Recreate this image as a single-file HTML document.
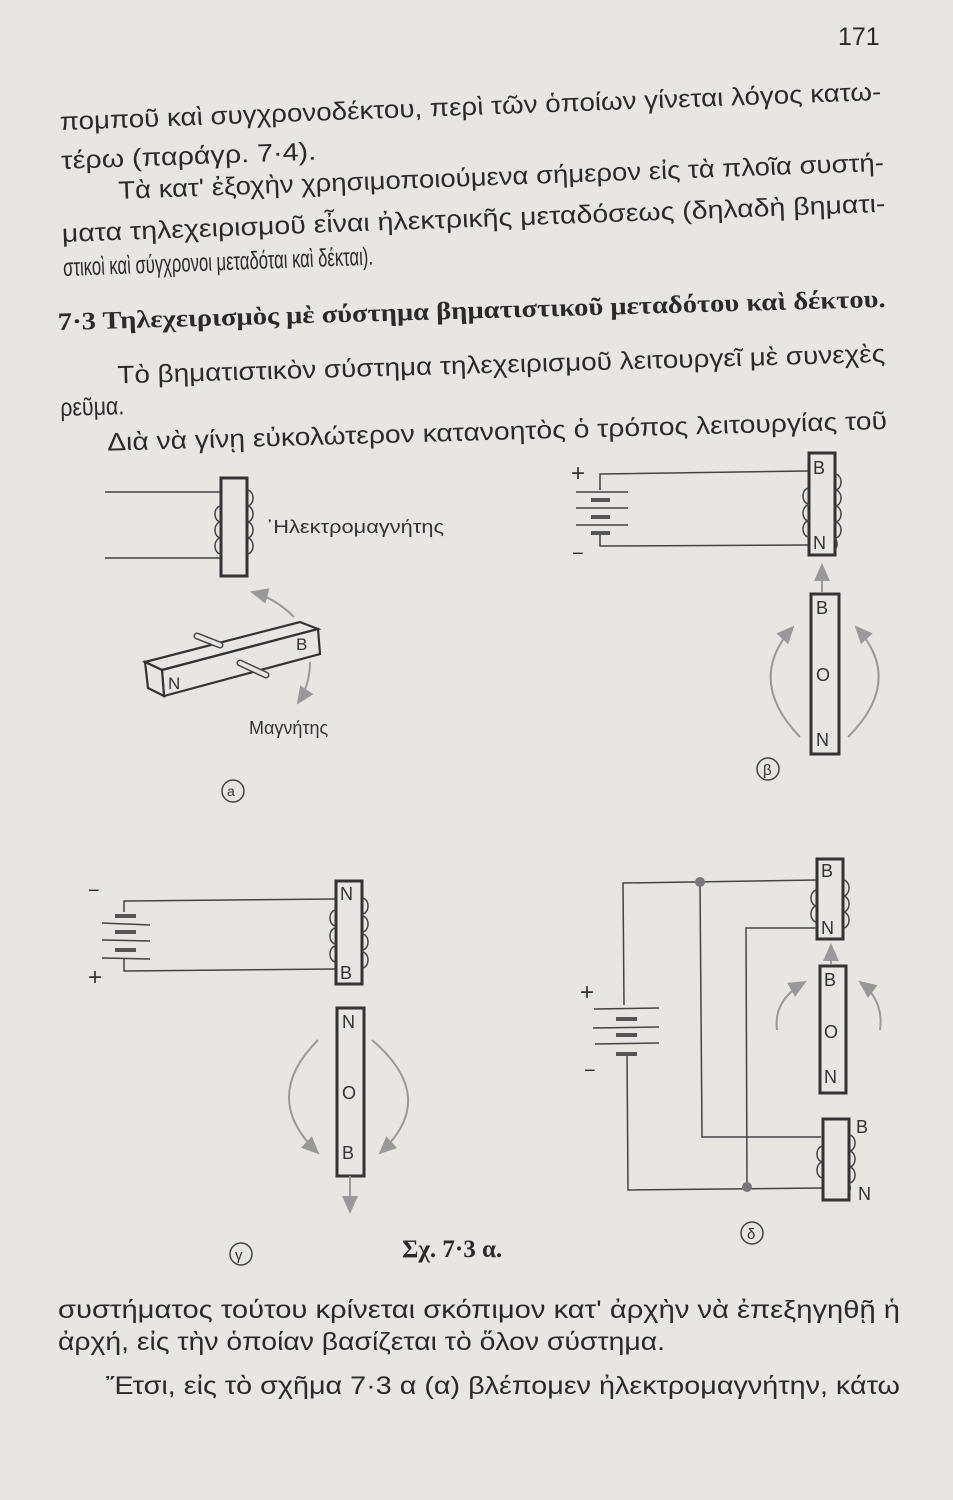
<!DOCTYPE html>
<html><head><meta charset="utf-8"><style>
html,body{margin:0;padding:0;background:#e8e6e2;}
svg{display:block}
.t{font-family:"Liberation Sans","DejaVu Sans",sans-serif;font-size:25px;fill:#2a2a2a}
.b{font-family:"Liberation Serif","DejaVu Serif",serif;font-size:25px;font-weight:bold;fill:#2a2a2a}
.l{font-family:"Liberation Sans",sans-serif;fill:#333}
.w{stroke:#444;stroke-width:1.5;fill:none}
.r{stroke:#333;stroke-width:3;fill:none}
.g{stroke:#999;stroke-width:2;fill:none}
.p{stroke:#555;stroke-width:4;}
</style></head><body>
<svg width="953" height="1500" viewBox="0 0 953 1500" xmlns="http://www.w3.org/2000/svg">
<defs>
<marker id="ah" markerWidth="10" markerHeight="10" refX="8" refY="5" orient="auto"><path d="M0,1 L9,5 L0,9 z" fill="#999"/></marker>
</defs>
<text class="t" x="838" y="45" font-size="24">171</text>
<g transform="rotate(-2.1 60 128)">
<text class="t" x="60" y="130" textLength="822" lengthAdjust="spacingAndGlyphs">πομποῦ καὶ συγχρονοδέκτου, περὶ τῶν ὁποίων γίνεται λόγος κατω-</text>
<text class="t" x="60" y="169" textLength="255" lengthAdjust="spacingAndGlyphs">τέρω (παράγρ. 7·4).</text>
<text class="t" x="116" y="201" textLength="766" lengthAdjust="spacingAndGlyphs">Τὰ κατ' ἐξοχὴν χρησιμοποιούμενα σήμερον εἰς τὰ πλοῖα συστή-</text>
<text class="t" x="58" y="242" textLength="824" lengthAdjust="spacingAndGlyphs">ματα τηλεχειρισμοῦ εἶναι ἠλεκτρικῆς μεταδόσεως (δηλαδὴ βηματι-</text>
<text class="t" x="58" y="276" font-size="23" textLength="310" lengthAdjust="spacingAndGlyphs">στικοὶ καὶ σύγχρονοι μεταδόται καὶ δέκται).</text>
</g>
<g transform="rotate(-1.6 58 328)">
<text class="b" x="58" y="330" textLength="828" lengthAdjust="spacingAndGlyphs">7·3 Τηλεχειρισμὸς μὲ σύστημα βηματιστικοῦ μεταδότου καὶ δέκτου.</text>
<text class="t" x="116" y="385" textLength="768" lengthAdjust="spacingAndGlyphs">Τὸ βηματιστικὸν σύστημα τηλεχειρισμοῦ λειτουργεῖ μὲ συνεχὲς</text>
<text class="t" x="58" y="416" font-size="23" textLength="64" lengthAdjust="spacingAndGlyphs">ρεῦμα.</text>
<text class="t" x="104" y="452" textLength="780" lengthAdjust="spacingAndGlyphs">Διὰ νὰ γίνῃ εὐκολώτερον κατανοητὸς ὁ τρόπος λειτουργίας τοῦ</text>
</g>

<!-- (α) -->
<line class="w" x1="105" y1="492" x2="222" y2="492"/>
<line class="w" x1="105" y1="558" x2="222" y2="558"/>
<rect class="r" x="221" y="478" width="26" height="98"/>
<path class="w" d="M247,490 a6,8 0 0 1 0,16 M221,506 a6,8 0 0 0 0,16 M247,506 a6,8 0 0 1 0,16 M221,522 a6,8 0 0 0 0,16 M247,522 a6,8 0 0 1 0,16 M221,538 a6,8 0 0 0 0,16 M247,538 a6,8 0 0 1 0,16"/>
<text class="l" x="266" y="533" font-size="18" textLength="178" lengthAdjust="spacingAndGlyphs">᾿Ηλεκτρομαγνήτης</text>
<path class="g" d="M294,617 Q275,598 252,592" marker-end="url(#ah)"/>
<path class="g" d="M310,662 Q310,685 298,703" marker-end="url(#ah)"/>
<polygon points="145,662 300,622 318,629 162,670" fill="#e8e6e2" stroke="#333" stroke-width="2.2"/>
<polygon points="162,670 318,629 320,654 164,696" fill="#e8e6e2" stroke="#333" stroke-width="2.2"/>
<polygon points="145,662 162,670 164,696 148,688" fill="#e8e6e2" stroke="#333" stroke-width="2.2"/>
<path d="M197,636 L220,645" stroke="#444" stroke-width="7" stroke-linecap="round"/>
<path d="M197,636 L220,645" stroke="#e8e6e2" stroke-width="4" stroke-linecap="round"/>
<path d="M240,663 L266,675" stroke="#444" stroke-width="7" stroke-linecap="round"/>
<path d="M240,663 L266,675" stroke="#e8e6e2" stroke-width="4" stroke-linecap="round"/>
<text class="l" x="168" y="689" font-size="17">N</text>
<text class="l" x="296" y="650" font-size="17">B</text>
<text class="l" x="249" y="734" font-size="18">Μαγνήτης</text>
<circle cx="233" cy="791" r="11" class="w"/><text class="l" x="227" y="796" font-size="14">a</text>

<!-- (β) -->
<text class="l" x="571" y="481" font-size="24">+</text>
<text class="l" x="572" y="560" font-size="20">−</text>
<path class="w" d="M600,490 L600,474 L808,471 M600,532 L600,546 L808,545"/>
<line class="w" x1="576" y1="492" x2="628" y2="492"/><line class="w" x1="576" y1="508" x2="628" y2="508"/><line class="w" x1="576" y1="525" x2="628" y2="525"/>
<line class="p" x1="591" y1="500" x2="610" y2="500"/><line class="p" x1="591" y1="517" x2="610" y2="517"/><line class="p" x1="591" y1="533" x2="610" y2="533"/>
<rect class="r" x="809" y="453" width="26" height="102"/>
<path class="w" d="M835,474 a6,8 0 0 1 0,16 M809,488 a6,8 0 0 0 0,16 M835,490 a6,8 0 0 1 0,16 M809,505 a6,8 0 0 0 0,16 M835,506 a6,8 0 0 1 0,16 M809,521 a6,8 0 0 0 0,16 M835,522 a6,8 0 0 1 0,16 M835,538 a6,8 0 0 1 0,12"/>
<text class="l" x="813" y="474" font-size="18">B</text><text class="l" x="813" y="549" font-size="18">N</text>
<path class="g" d="M822,592 L822,565" marker-end="url(#ah)"/>
<rect class="r" x="811" y="594" width="28" height="160"/>
<text class="l" x="816" y="614" font-size="18">B</text><text class="l" x="816" y="681" font-size="18">O</text><text class="l" x="816" y="746" font-size="18">N</text>
<path class="g" d="M800,737 Q745,680 793,627" marker-end="url(#ah)"/>
<path class="g" d="M848,737 Q905,680 856,627" marker-end="url(#ah)"/>
<circle cx="768" cy="769" r="11" class="w"/><text class="l" x="763" y="775" font-size="15">β</text>

<!-- (γ) -->
<text class="l" x="88" y="897" font-size="20">−</text>
<text class="l" x="88" y="985" font-size="24">+</text>
<path class="w" d="M124,912 L124,901 L336,899 M124,958 L124,971 L336,969"/>
<line class="w" x1="102" y1="923" x2="150" y2="925"/><line class="w" x1="102" y1="940" x2="150" y2="941"/><line class="w" x1="102" y1="958" x2="150" y2="959"/>
<line class="p" x1="115" y1="916" x2="136" y2="916"/><line class="p" x1="115" y1="932" x2="136" y2="932"/><line class="p" x1="115" y1="950" x2="136" y2="950"/>
<rect class="r" x="336" y="881" width="26" height="103"/>
<path class="w" d="M362,898 a6,8 0 0 1 0,16 M336,910 a6,8 0 0 0 0,16 M362,916 a6,8 0 0 1 0,16 M336,928 a6,8 0 0 0 0,16 M362,934 a6,8 0 0 1 0,16 M336,946 a6,8 0 0 0 0,16 M362,952 a6,8 0 0 1 0,16"/>
<text class="l" x="340" y="900" font-size="18">N</text><text class="l" x="340" y="979" font-size="18">B</text>
<rect class="r" x="337" y="1008" width="27" height="168"/>
<text class="l" x="342" y="1028" font-size="18">N</text><text class="l" x="342" y="1099" font-size="18">O</text><text class="l" x="342" y="1159" font-size="18">B</text>
<path class="g" d="M350,1176 L350,1212" marker-end="url(#ah)"/>
<path class="g" d="M318,1040 Q260,1098 318,1153" marker-end="url(#ah)"/>
<path class="g" d="M372,1040 Q440,1098 380,1153" marker-end="url(#ah)"/>
<circle cx="241" cy="1254" r="11" class="w"/><text class="l" x="235" y="1260" font-size="15">γ</text>
<text class="b" x="402" y="1257" font-size="19" font-weight="normal">Σχ. 7·3 α.</text>

<!-- (δ) -->
<text class="l" x="580" y="1000" font-size="24">+</text>
<text class="l" x="584" y="1077" font-size="20">−</text>
<path class="w" d="M624,1005 L623,883 L817,880 M627,1052 L628,1190 L822,1188 M700,882 L702,1137 L821,1137 M747,1188 L746,928 L818,928"/>
<circle cx="700" cy="882" r="5" fill="#777"/><circle cx="747" cy="1187" r="5" fill="#777"/>
<line class="w" x1="594" y1="1009" x2="659" y2="1008"/><line class="w" x1="593" y1="1028" x2="659" y2="1027"/><line class="w" x1="595" y1="1044" x2="659" y2="1043"/>
<line class="p" x1="616" y1="1019" x2="637" y2="1019"/><line class="p" x1="616" y1="1035" x2="637" y2="1035"/><line class="p" x1="616" y1="1054" x2="637" y2="1054"/>
<rect class="r" x="817" y="859" width="26" height="80"/>
<path class="w" d="M843,880 a6,8 0 0 1 0,16 M817,890 a6,8 0 0 0 0,16 M843,896 a6,8 0 0 1 0,16 M817,906 a6,8 0 0 0 0,16 M843,912 a6,8 0 0 1 0,16"/>
<text class="l" x="821" y="877" font-size="18">B</text><text class="l" x="821" y="934" font-size="18">N</text>
<path class="g" d="M831,964 L831,945" marker-end="url(#ah)"/>
<rect class="r" x="820" y="966" width="26" height="127"/>
<text class="l" x="824" y="986" font-size="18">B</text><text class="l" x="824" y="1038" font-size="18">O</text><text class="l" x="824" y="1083" font-size="18">N</text>
<path class="g" d="M777,1030 Q773,1000 805,982" marker-end="url(#ah)"/>
<path class="g" d="M880,1030 Q884,1000 860,982" marker-end="url(#ah)"/>
<rect class="r" x="823" y="1119" width="26" height="81"/>
<path class="w" d="M849,1135 a6,8 0 0 1 0,16 M823,1146 a6,8 0 0 0 0,16 M849,1151 a6,8 0 0 1 0,16 M823,1162 a6,8 0 0 0 0,16 M849,1167 a6,8 0 0 1 0,16 M849,1183 a6,8 0 0 1 0,10"/>
<text class="l" x="856" y="1133" font-size="18">B</text><text class="l" x="858" y="1200" font-size="18">N</text>
<circle cx="752" cy="1233" r="11" class="w"/><text class="l" x="747" y="1239" font-size="15">δ</text>

<text class="t" x="58" y="1318" textLength="842" lengthAdjust="spacingAndGlyphs">συστήματος τούτου κρίνεται σκόπιμον κατ' ἀρχὴν νὰ ἐπεξηγηθῇ ἡ</text>
<text class="t" x="58" y="1350" textLength="607" lengthAdjust="spacingAndGlyphs">ἀρχή, εἰς τὴν ὁποίαν βασίζεται τὸ ὅλον σύστημα.</text>
<text class="t" x="106" y="1394" textLength="794" lengthAdjust="spacingAndGlyphs">Ἔτσι, εἰς τὸ σχῆμα 7·3 α (α) βλέπομεν ἠλεκτρομαγνήτην, κάτω</text>
</svg>
</body></html>
